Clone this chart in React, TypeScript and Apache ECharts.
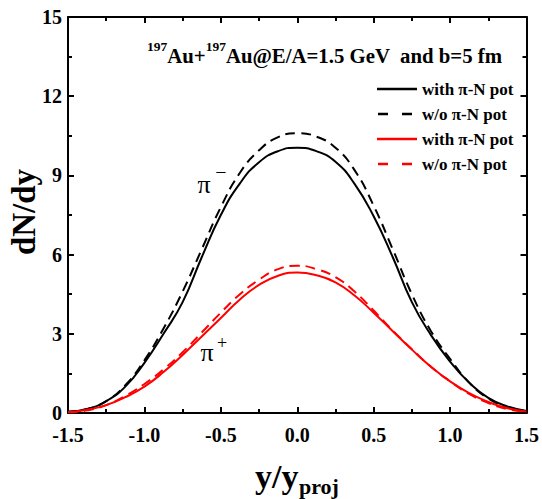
import React, { useEffect, useRef } from "react";
import * as echarts from "echarts";

const xs = [-1.5, -1.375, -1.25, -1.125, -1.0, -0.875, -0.75, -0.625, -0.5, -0.375, -0.25, -0.125, 0, 0.125, 0.25, 0.375, 0.5, 0.625, 0.75, 0.875, 1.0, 1.125, 1.25, 1.375, 1.5];
const piMinusWith = [0.05, 0.15, 0.45, 1.0, 1.9, 3.0, 4.2, 5.9, 7.5, 8.7, 9.5, 9.92, 10.05, 9.92, 9.52, 8.68, 7.45, 5.9, 4.2, 2.95, 1.95, 1.15, 0.57, 0.25, 0.08];
const piMinusWithout = [0.05, 0.15, 0.45, 1.05, 2.0, 3.2, 4.6, 6.2, 7.8, 9.1, 9.95, 10.45, 10.6, 10.47, 10.05, 9.2, 7.85, 6.2, 4.5, 3.1, 2.05, 1.15, 0.55, 0.22, 0.07];
const piPlusWith = [0.03, 0.12, 0.3, 0.6, 1.0, 1.55, 2.2, 2.9, 3.6, 4.3, 4.85, 5.2, 5.32, 5.22, 4.95, 4.45, 3.8, 3.1, 2.4, 1.75, 1.2, 0.75, 0.42, 0.18, 0.06];
const piPlusWithout = [0.03, 0.1, 0.3, 0.65, 1.1, 1.65, 2.3, 3.05, 3.8, 4.5, 5.05, 5.45, 5.58, 5.45, 5.15, 4.6, 3.88, 3.12, 2.42, 1.75, 1.2, 0.72, 0.38, 0.15, 0.05];
const legendNames = ["with π-N pot", "w/o π-N pot", "with π-N pot", "w/o π-N pot"];
const legendColors = ["#000000", "#000000", "#ff0000", "#ff0000"];
const legendDashed = [false, true, false, true];

const FONT = "Liberation Serif";

export default function App() {
  const ref = useRef<HTMLDivElement>(null);
  useEffect(() => {
    if (!ref.current) return;
    const chart = echarts.init(ref.current, null, { renderer: "svg" });
    const pair = (arr: number[]) => xs.map((x, i) => [x, arr[i]]);
    const axisCommon = {
      axisLine: { show: true, onZero: false, lineStyle: { color: "#000", width: 2 } },
      axisTick: { show: true, inside: true, length: 6, lineStyle: { color: "#000", width: 2 } },
      minorTick: { show: true, splitNumber: 2, length: 4, lineStyle: { color: "#000", width: 2 } },
      splitLine: { show: false },
    };
    const mkSeries = (name: string, data: number[], color: string, dashed: boolean) => ({
      name,
      type: "line",
      data: pair(data),
      smooth: 0.5,
      symbol: "none",
      lineStyle: { color, width: 2, type: dashed ? [10, 6] : "solid" },
      itemStyle: { color },
    });

    const legendGraphics: any[] = [];
    legendNames.forEach((name, i) => {
      const cy = 89 + i * 25;
      legendGraphics.push({
        type: "line",
        shape: legendDashed[i] ? { x1: 378, y1: cy, x2: 412, y2: cy } : { x1: 377, y1: cy, x2: 417, y2: cy },
        style: { stroke: legendColors[i], lineWidth: 2.5, lineDash: legendDashed[i] ? [10, 14] : null },
      });
      legendGraphics.push({
        type: "text",
        x: 422,
        y: cy,
        style: { text: name, fontFamily: FONT, fontWeight: "bold", fontSize: 17, fill: "#000", verticalAlign: "middle", align: "left" },
      });
    });

    chart.setOption({
      animation: false,
      grid: { left: 68, right: 13, top: 17, bottom: 86 },
      xAxis: [
        {
          type: "value", min: -1.5, max: 1.5, interval: 0.5, ...axisCommon,
          axisLabel: { color: "#000", fontFamily: FONT, fontWeight: "bold", fontSize: 20, margin: 12, formatter: (v: number) => v.toFixed(1) },
        },
        {
          type: "value", position: "top", min: -1.5, max: 1.5, interval: 0.5, ...axisCommon,
          axisLabel: { show: false },
        },
      ],
      yAxis: [
        {
          type: "value", min: 0, max: 15, interval: 3, ...axisCommon,
          axisLabel: { color: "#000", fontFamily: FONT, fontWeight: "bold", fontSize: 20, margin: 6 },
        },
        {
          type: "value", position: "right", min: 0, max: 15, interval: 3, ...axisCommon,
          axisLabel: { show: false },
        },
      ],
      series: [
        mkSeries("a", piMinusWith, "#000000", false),
        mkSeries("b", piMinusWithout, "#000000", true),
        mkSeries("c", piPlusWith, "#ff0000", false),
        mkSeries("d", piPlusWithout, "#ff0000", true),
      ],
      graphic: [
        ...legendGraphics,
        {
          type: "text", left: 147, top: 39,
          style: {
            text: "{s|197}{b|Au+}{s|197}{b|Au@E/A=1.5 GeV  and b=5 fm}",
            rich: {
              s: { fontFamily: FONT, fontWeight: "bold", fontSize: 13.5, verticalAlign: "top", lineHeight: 27, fill: "#000" },
              b: { fontFamily: FONT, fontWeight: "bold", fontSize: 20.8, verticalAlign: "bottom", lineHeight: 27, fill: "#000" },
            },
          },
        },
        { type: "text", x: 204, y: 184, style: { text: "π", fontFamily: FONT, fontSize: 26, fill: "#000", align: "center", verticalAlign: "middle" } },
        { type: "text", x: 221, y: 172, style: { text: "−", fontFamily: FONT, fontSize: 20, fill: "#000", align: "center", verticalAlign: "middle" } },
        { type: "text", x: 207, y: 352, style: { text: "π", fontFamily: FONT, fontSize: 26, fill: "#000", align: "center", verticalAlign: "middle" } },
        { type: "text", x: 222, y: 343, style: { text: "+", fontFamily: FONT, fontSize: 18, fill: "#000", align: "center", verticalAlign: "middle" } },
        {
          type: "text", x: 24, y: 212, rotation: Math.PI / 2,
          style: {
            text: "dN/dy", fontFamily: FONT, fontWeight: "bold", fontSize: 33, fill: "#000",
            align: "center", verticalAlign: "middle",
          },
        },
        { type: "text", x: 255, y: 476, style: { text: "y/y", fontFamily: FONT, fontWeight: "bold", fontSize: 34, fill: "#000", align: "left", verticalAlign: "middle" } },
        { type: "text", x: 299, y: 486, style: { text: "proj", fontFamily: FONT, fontWeight: "bold", fontSize: 22, fill: "#000", align: "left", verticalAlign: "middle" } },
      ],
    });
    return () => chart.dispose();
  }, []);
  return <div ref={ref} style={{ width: 542, height: 499, position: "absolute", left: 0, top: 0 }} />;
}
